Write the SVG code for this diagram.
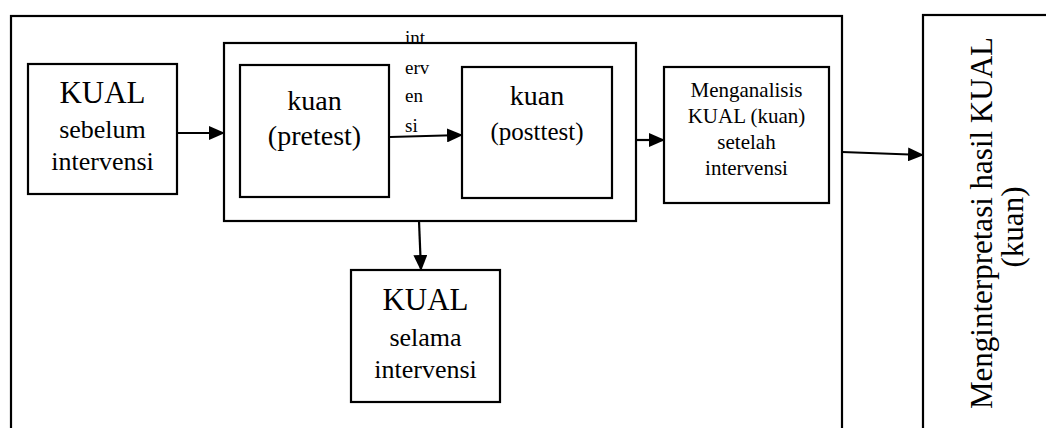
<svg xmlns="http://www.w3.org/2000/svg" width="1046" height="428" viewBox="0 0 1046 428">
<style>
.box{fill:none;stroke:#000;stroke-width:2.2}
text{font-family:'Liberation Serif','Times New Roman',Times,serif;fill:#000}
.t{text-anchor:middle}
.c{stroke:#000;stroke-width:2.2;fill:none;marker-end:url(#ah)}
</style>
<defs>
<marker id="ah" markerWidth="16" markerHeight="14" refX="15" refY="7" orient="auto" markerUnits="userSpaceOnUse">
<path d="M0,0 L16,7 L0,14 Z" fill="#000"/>
</marker>
</defs>
<rect width="1046" height="428" fill="#fff"/>
<g id="outer"><rect class="box" x="11" y="16" width="831" height="430"/></g>
<g id="interpretasi">
<rect class="box" x="923" y="15" width="140" height="430"/>
<text class="t" font-family="Liberation Serif, serif" font-size="31" transform="translate(992,223) rotate(-90)">Menginterpretasi hasil KUAL</text>
<text class="t" font-family="Liberation Serif, serif" font-size="31" transform="translate(1023,227) rotate(-90)">(kuan)</text>
</g>
<g id="kual-sebelum" font-family="Liberation Serif, serif">
<rect class="box" x="28" y="64" width="149" height="130"/>
<text class="t" x="102.5" y="103" font-size="31">KUAL</text>
<text class="t" x="102.5" y="138" font-size="26">sebelum</text>
<text class="t" x="102.5" y="170" font-size="26">intervensi</text>
</g>
<g id="intervensi-group"><rect class="box" x="224" y="43" width="412" height="178"/></g>
<g id="kuan-pretest">
<rect class="box" x="240" y="65" width="149" height="132"/>
<text class="t" x="314.5" y="110" font-size="28">kuan</text>
<text class="t" x="314.5" y="145" font-size="28">(pretest)</text>
</g>
<g id="kuan-posttest">
<rect class="box" x="462" y="67" width="150" height="131"/>
<text class="t" x="537" y="105" font-size="28">kuan</text>
<text class="t" x="537" y="140" font-size="25">(posttest)</text>
</g>
<g id="menganalisis">
<rect class="box" x="664" y="67" width="165" height="136"/>
<text class="t" x="746.5" y="97" font-size="21">Menganalisis</text>
<text class="t" x="746.5" y="123" font-size="21">KUAL (kuan)</text>
<text class="t" x="746.5" y="149" font-size="21">setelah</text>
<text class="t" x="746.5" y="175" font-size="21">intervensi</text>
</g>
<g id="kual-selama">
<rect class="box" x="351" y="270" width="149" height="132"/>
<text class="t" x="425.5" y="310" font-size="31">KUAL</text>
<text class="t" x="425.5" y="346" font-size="26">selama</text>
<text class="t" x="425.5" y="378" font-size="26">intervensi</text>
</g>
<g id="connectors">
<line class="c" x1="177" y1="133" x2="224" y2="133"/>
<line class="c" x1="390" y1="137" x2="462" y2="135"/>
<line class="c" x1="636" y1="140" x2="664" y2="140"/>
<line class="c" x1="842" y1="152" x2="923" y2="155"/>
<line class="c" x1="419" y1="221" x2="421" y2="270"/>
<g id="label-intervensi">
<text x="405" y="44" font-size="19">int</text>
<text x="405" y="74" font-size="19">erv</text>
<text x="405" y="102" font-size="19">en</text>
<text x="405" y="132" font-size="19">si</text>
</g>
</g>
</svg>
